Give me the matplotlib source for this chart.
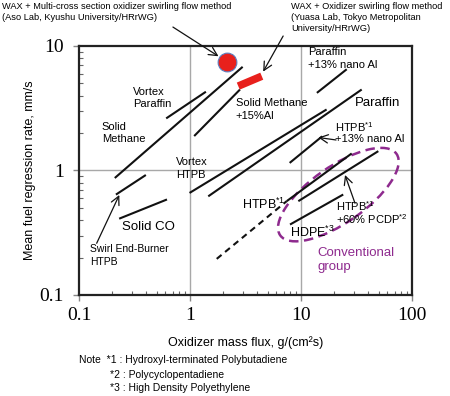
import matplotlib

matplotlib.use("Agg")
import matplotlib.pyplot as plt
from matplotlib.patches import Ellipse
from matplotlib.transforms import ScaledTranslation

plt.rcParams["font.family"] = ["Liberation Sans", "DejaVu Sans"]
plt.rcParams["mathtext.fontset"] = "custom"
plt.rcParams["mathtext.rm"] = "Liberation Sans"
plt.rcParams["mathtext.it"] = "Liberation Sans:italic"
plt.rcParams["mathtext.bf"] = "Liberation Sans:bold"

# fitted regression-rate lines: oxidizer mass flux (g/cm2 s) -> regression rate (mm/s)
solid_methane_x = [0.21, 2.98]
solid_methane_y = [0.87, 6.8]
solid_methane_al_x = [1.09, 2.82]
solid_methane_al_y = [1.89, 4.47]
vortex_paraffin_x = [0.61, 1.39]
vortex_paraffin_y = [2.62, 4.29]
paraffin_x = [1.46, 35.2]
paraffin_y = [0.62, 4.47]
paraffin_nano_al_x = [13.9, 25.8]
paraffin_nano_al_y = [4.2, 6.5]
vortex_htpb_x = [0.99, 17.0]
vortex_htpb_y = [0.66, 3.09]
htpb_nano_al_x = [7.9, 15.5]
htpb_nano_al_y = [1.15, 1.88]
htpb_x = [7.43, 28.6]
htpb_y = [0.567, 1.37]
htpb_extrap_x = [1.74, 7.43]
htpb_extrap_y = [0.195, 0.567]
htpb_pcdp_x = [9.46, 49.7]
htpb_pcdp_y = [0.567, 1.43]
hdpe_x = [7.96, 24.0]
hdpe_y = [0.368, 0.641]
swirl_end_burner_x = [0.215, 0.40]
swirl_end_burner_y = [0.64, 0.92]
solid_co_x = [0.23, 0.62]
solid_co_y = [0.41, 0.585]

# WAX results (HRrWG)
wax_multi_x = [2.14]
wax_multi_y = [7.5]
wax_swirl_x = [2.72, 4.43]
wax_swirl_y = [4.76, 5.72]

# conventional group outline centre
group_x = 21.7
group_y = 0.64

BLACK = "#111111"
RED = "#e8201c"
PURPLE = "#8e2a8e"

fig = plt.figure(figsize=(4.5, 3.96), dpi=100)
ax = fig.add_axes([0.1756, 0.2551, 0.74, 0.6288])
ax.set_xscale("log")
ax.set_yscale("log")
ax.set_xlim(0.1, 100)
ax.set_ylim(0.1, 10)

ax.axvline(1, color="#a8a8a8", lw=1, zorder=0)
ax.axvline(10, color="#a8a8a8", lw=1, zorder=0)
ax.axhline(1, color="#a8a8a8", lw=1, zorder=0)

solid_lines = [
    (solid_methane_x, solid_methane_y),
    (solid_methane_al_x, solid_methane_al_y),
    (vortex_paraffin_x, vortex_paraffin_y),
    (paraffin_x, paraffin_y),
    (paraffin_nano_al_x, paraffin_nano_al_y),
    (vortex_htpb_x, vortex_htpb_y),
    (htpb_nano_al_x, htpb_nano_al_y),
    (htpb_x, htpb_y),
    (htpb_pcdp_x, htpb_pcdp_y),
    (hdpe_x, hdpe_y),
    (swirl_end_burner_x, swirl_end_burner_y),
    (solid_co_x, solid_co_y),
]
for xs, ys in solid_lines:
    ax.plot(xs, ys, color=BLACK, lw=1.5, solid_capstyle="butt")
ax.plot(htpb_extrap_x, htpb_extrap_y, color=BLACK, lw=1.5, linestyle=(0, (3, 2.2)))

ax.plot(wax_swirl_x, wax_swirl_y, color=RED, lw=5.5, solid_capstyle="butt", zorder=4)
ax.plot(wax_multi_x, wax_multi_y, "o", ms=13.5, mfc=RED, mec="#5b7fc0", mew=0.8, zorder=5)

group = Ellipse((0, 0), 1.42, 0.56, angle=35, fill=False, edgecolor=PURPLE, lw=1.8,
                linestyle=(0, (3.8, 2.2)),
                transform=fig.dpi_scale_trans + ScaledTranslation(group_x, group_y, ax.transData))
ax.add_patch(group)

for spine in ax.spines.values():
    spine.set_linewidth(1.6)
    spine.set_color("#222222")

ax.set_xticks([0.1, 1, 10, 100], labels=["0.1", "1", "10", "100"],
              fontfamily="Liberation Serif", fontsize=14)
ax.set_yticks([0.1, 1, 10], labels=["0.1", "1", "10"],
              fontfamily="Liberation Serif", fontsize=14)
ax.tick_params(which="major", direction="out", length=4, width=1, color="#888888")
ax.tick_params(axis="x", which="major", pad=5)
ax.tick_params(axis="y", which="major", pad=7)
ax.tick_params(which="minor", direction="in", length=3, width=0.8, color="#666666")
ax.tick_params(which="both", top=False, right=False)

ax.set_xlabel("Oxidizer mass flux, g/(cm²s)", fontsize=9)
ax.xaxis.set_label_coords(0.5, -0.165)
ax.set_ylabel("Mean fuel regression rate, mm/s", fontsize=9)
ax.yaxis.set_label_coords(-0.13, 0.5)


def label(fx, fy, s, size=8, spacing=1.3, **kw):
    ax.text(fx, fy, s, transform=ax.transAxes, ha="left", va="top", fontsize=size,
            linespacing=spacing, **kw)


label(0.162, 0.837, "Vortex\nParaffin")
label(0.068, 0.696, "Solid\nMethane")
label(0.291, 0.553, "Vortex\nHTPB")
label(0.128, 0.298, "Solid CO", size=9.5)
label(0.033, 0.204, "Swirl End-Burner\nHTPB", size=7.5)
label(0.471, 0.790, "Solid Methane\n+15%Al")
label(0.689, 0.995, "Paraffin\n+13% nano Al")
label(0.829, 0.796, "Paraffin", size=9.5)
label(0.769, 0.700, "HTPB$^{*1}$\n+13% nano Al", spacing=1.0)
label(0.489, 0.395, "HTPB$^{*1}$", size=9)
label(0.772, 0.385, "HTPB$^{*1}$\n+60% PCDP$^{*2}$", spacing=0.95)
label(0.634, 0.281, "HDPE$^{*3}$", size=9)
label(0.716, 0.194, "Conventional\ngroup", size=9.5, color=PURPLE)

arrow = dict(arrowstyle="->,head_length=0.6,head_width=0.3", color=BLACK, lw=0.9)
ax.annotate("", xy=(wax_multi_x[0], wax_multi_y[0]), xycoords="data",
            xytext=(0.282, 1.076), textcoords="axes fraction",
            arrowprops=dict(arrow, shrinkA=0, shrinkB=7), annotation_clip=False)
ax.annotate("", xy=(0.553, 0.897), xycoords="axes fraction",
            xytext=(0.613, 1.04), textcoords="axes fraction",
            arrowprops=dict(arrow, shrinkA=0, shrinkB=0), annotation_clip=False)
ax.annotate("", xy=(0.7186, 0.6325), xycoords="axes fraction",
            xytext=(0.7718, 0.6225), textcoords="axes fraction",
            arrowprops=dict(arrow, shrinkA=0, shrinkB=0))
ax.annotate("", xy=(0.7988, 0.4819), xycoords="axes fraction",
            xytext=(0.8288, 0.3683), textcoords="axes fraction",
            arrowprops=dict(arrow, shrinkA=0, shrinkB=0))
ax.annotate("", xy=(0.121, 0.4016), xycoords="axes fraction",
            xytext=(0.053, 0.2077), textcoords="axes fraction",
            arrowprops=dict(arrow, shrinkA=0, shrinkB=0))

fig.text(0.004, 0.995, "WAX + Multi-cross section oxidizer swirling flow method\n"
         "(Aso Lab, Kyushu University/HRrWG)", ha="left", va="top", fontsize=6.7,
         linespacing=1.3)
fig.text(0.647, 0.995, "WAX + Oxidizer swirling flow method\n(Yuasa Lab, Tokyo Metropolitan\n"
         "University/HRrWG)", ha="left", va="top", fontsize=6.7, linespacing=1.3)

fig.text(0.1756, 0.0909, "Note  *1 : Hydroxyl-terminated Polybutadiene", ha="left",
         va="center", fontsize=7.5)
fig.text(0.2444, 0.053, "*2 : Polycyclopentadiene", ha="left", va="center", fontsize=7.5)
fig.text(0.2444, 0.020, "*3 : High Density Polyethylene", ha="left", va="center", fontsize=7.5)

fig.savefig("out.png", dpi=100)
